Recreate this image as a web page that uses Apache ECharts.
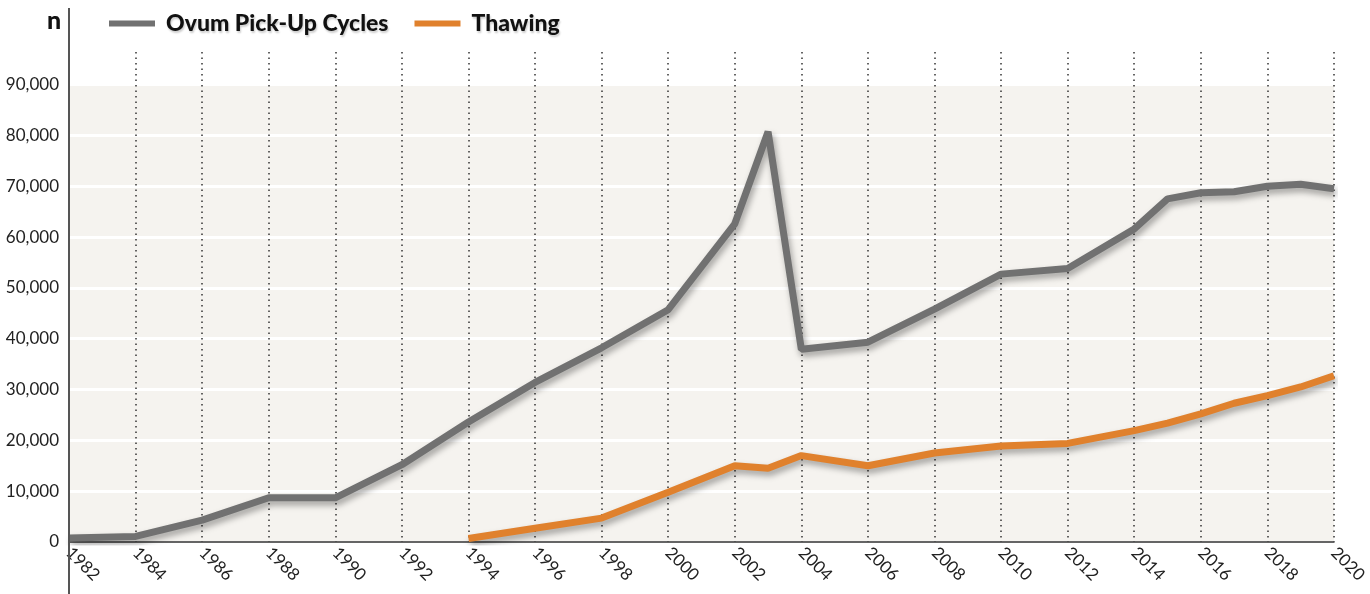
<!DOCTYPE html>
<html>
<head>
<meta charset="utf-8">
<title>Ovum Pick-Up Cycles / Thawing</title>
<script src="https://cdn.jsdelivr.net/npm/echarts@6/dist/echarts.min.js"></script>
<style>
    body { margin: 0; background: #fff; }
    #chart-main { width: 1370px; height: 594px; }
</style>
</head>
<body>
<div id="chart-main"></div>
<script>
// 年份 (x轴)
var years = ['1982', '1983', '1984', '1985', '1986', '1987', '1988', '1989', '1990', '1991',
    '1992', '1993', '1994', '1995', '1996', '1997', '1998', '1999', '2000', '2001',
    '2002', '2003', '2004', '2005', '2006', '2007', '2008', '2009', '2010', '2011',
    '2012', '2013', '2014', '2015', '2016', '2017', '2018', '2019', '2020'];

// Ovum Pick-Up Cycles, null = no point that year
var ovumData = [800, null, 1100, null, 4300, null, 8700, null, 8700, null,
    15200, null, 23600, null, 31400, null, 38200, null, 45700, null,
    62600, 80700, 37900, null, 39300, null, 45800, null, 52700, null,
    53800, null, 61600, 67500, 68700, 68900, 70000, 70400, 69500];

// Thawing
var thawData = [null, null, null, null, null, null, null, null, null, null,
    null, null, 700, null, 2700, null, 4700, null, 9800, null,
    15000, 14500, 17000, null, 15000, null, 17500, null, 18900, null,
    19400, null, 21900, 23400, 25200, 27300, 28800, 30500, 32700];

// y轴刻度
var yTicks = [0, 10000, 20000, 30000, 40000, 50000, 60000, 70000, 80000, 90000];

var seriesNames = ['Ovum Pick-Up Cycles', 'Thawing'];
var seriesColors = ['#717171', '#e0812d'];

var myChart = echarts.init(document.getElementById('chart-main'));

var lineShadow = {
    shadowColor: 'rgba(0,0,0,0.35)',
    shadowBlur: 6,
    shadowOffsetX: 2,
    shadowOffsetY: 4
};

var option = {
    animation: false,
    title: {
        text: 'n',
        left: 42,
        top: 3,
        textStyle: { fontFamily: 'Lato', fontSize: 25, fontWeight: 900, color: '#111' }
    },
    legend: {
        data: seriesNames,
        left: 104,
        top: 7,
        icon: 'rect',
        itemWidth: 46,
        itemHeight: 6,
        itemGap: 26,
        textStyle: {
            fontFamily: 'Lato',
            fontSize: 23,
            fontWeight: 900,
            color: '#111',
            padding: [0, 0, 0, 6],
            textShadowColor: 'rgba(0,0,0,0.2)',
            textShadowBlur: 2,
            textShadowOffsetX: 1,
            textShadowOffsetY: 2
        }
    },
    grid: {
        left: 69,
        right: 35,
        top: 52,
        bottom: 52,
        containLabel: false
    },
    xAxis: {
        type: 'category',
        data: years,
        boundaryGap: false,
        axisLine: { lineStyle: { color: '#333', width: 1.5 } },
        axisTick: { show: false },
        axisLabel: {
            interval: 1,
            rotate: -45,
            margin: 8,
            fontFamily: 'Lato',
            fontSize: 17,
            color: '#222'
        },
        splitLine: {
            show: true,
            interval: 1,
            lineStyle: { color: '#333', width: 1.5, type: [1.5, 4] }
        }
    },
    yAxis: {
        type: 'value',
        min: 0,
        max: 96400,
        interval: 10000,
        axisLine: { show: false },
        axisTick: { show: false },
        axisLabel: {
            showMaxLabel: false,
            margin: 10,
            fontFamily: 'Lato',
            fontSize: 17,
            color: '#222',
            formatter: function (v) {
                return yTicks.indexOf(v) >= 0 ? v.toLocaleString('en-US') : '';
            }
        },
        splitLine: { lineStyle: { color: '#ffffff', width: 3 } }
    },
    graphic: [{
        type: 'line',
        z: 100,
        shape: { x1: 69, y1: 8, x2: 69, y2: 594 },
        style: { stroke: '#555', lineWidth: 2 }
    }],
    series: [
        {
            // 背景底色 0 - 90,000
            type: 'line',
            data: [],
            z: -5,
            silent: true,
            markArea: {
                silent: true,
                z: -5,
                itemStyle: { color: '#f5f3ef' },
                data: [[{ yAxis: 0 }, { yAxis: 90000 }]]
            }
        },
        {
            name: seriesNames[0],
            type: 'line',
            data: ovumData,
            connectNulls: true,
            symbol: 'none',
            color: seriesColors[0],
            lineStyle: Object.assign({ color: seriesColors[0], width: 7 }, lineShadow)
        },
        {
            name: seriesNames[1],
            type: 'line',
            data: thawData,
            connectNulls: true,
            symbol: 'none',
            color: seriesColors[1],
            lineStyle: Object.assign({ color: seriesColors[1], width: 7 }, lineShadow)
        }
    ]
};
// 使用刚指定的配置项和数据显示图表。
myChart.setOption(option);
</script>
</body>
</html>
